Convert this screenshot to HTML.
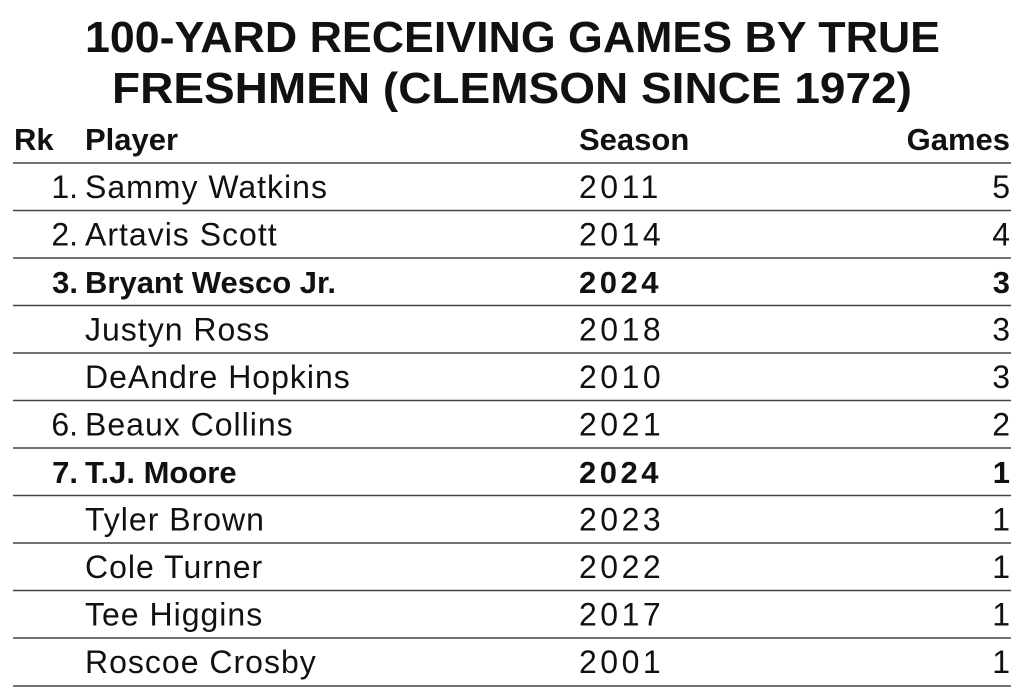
<!DOCTYPE html>
<html><head><meta charset="utf-8"><style>
html,body{margin:0;padding:0;background:#fff;}
svg{display:block;}
text{font-family:"Liberation Sans",sans-serif;fill:#111;}
.n{letter-spacing:1px;}
.y{letter-spacing:3.5px;}
</style></head><body>
<svg width="1024" height="697" viewBox="0 0 1024 697" xmlns="http://www.w3.org/2000/svg">
<text x="85" y="52" font-size="44" font-weight="bold" textLength="855" lengthAdjust="spacingAndGlyphs">100-YARD RECEIVING GAMES BY TRUE</text>
<text x="112" y="103" font-size="44" font-weight="bold" textLength="800" lengthAdjust="spacingAndGlyphs">FRESHMEN (CLEMSON SINCE 1972)</text>
<g font-size="31" font-weight="bold">
<text x="14" y="150">Rk</text>
<text x="85" y="150">Player</text>
<text x="579" y="150">Season</text>
<text x="1010" y="150" text-anchor="end">Games</text>
</g>
<g stroke="#444" stroke-width="1.5">
<line x1="13" x2="1011" y1="163" y2="163"/>
<line x1="13" x2="1011" y1="210.5" y2="210.5"/>
<line x1="13" x2="1011" y1="258" y2="258"/>
<line x1="13" x2="1011" y1="305.5" y2="305.5"/>
<line x1="13" x2="1011" y1="353" y2="353"/>
<line x1="13" x2="1011" y1="400.5" y2="400.5"/>
<line x1="13" x2="1011" y1="448" y2="448"/>
<line x1="13" x2="1011" y1="495.5" y2="495.5"/>
<line x1="13" x2="1011" y1="543" y2="543"/>
<line x1="13" x2="1011" y1="590.5" y2="590.5"/>
<line x1="13" x2="1011" y1="638" y2="638"/>
<line x1="13" x2="1011" y1="686" y2="686"/>
</g>
<g font-size="32">
<text x="78" y="198" text-anchor="end">1.</text><text class="n" x="85" y="198">Sammy Watkins</text><text class="y" x="579" y="198">2011</text><text x="1010" y="198" text-anchor="end">5</text>
<text x="78" y="245.5" text-anchor="end">2.</text><text class="n" x="85" y="245.5">Artavis Scott</text><text class="y" x="579" y="245.5">2014</text><text x="1010" y="245.5" text-anchor="end">4</text>
<g font-weight="bold" font-size="31"><text x="78" y="293" text-anchor="end">3.</text><text x="85" y="293">Bryant Wesco Jr.</text><text class="y" x="579" y="293">2024</text><text x="1010" y="293" text-anchor="end">3</text></g>
<text class="n" x="85" y="340.5">Justyn Ross</text><text class="y" x="579" y="340.5">2018</text><text x="1010" y="340.5" text-anchor="end">3</text>
<text class="n" x="85" y="388">DeAndre Hopkins</text><text class="y" x="579" y="388">2010</text><text x="1010" y="388" text-anchor="end">3</text>
<text x="78" y="435.5" text-anchor="end">6.</text><text class="n" x="85" y="435.5">Beaux Collins</text><text class="y" x="579" y="435.5">2021</text><text x="1010" y="435.5" text-anchor="end">2</text>
<g font-weight="bold" font-size="31"><text x="78" y="483" text-anchor="end">7.</text><text x="85" y="483">T.J. Moore</text><text class="y" x="579" y="483">2024</text><text x="1010" y="483" text-anchor="end">1</text></g>
<text class="n" x="85" y="530.5">Tyler Brown</text><text class="y" x="579" y="530.5">2023</text><text x="1010" y="530.5" text-anchor="end">1</text>
<text class="n" x="85" y="578">Cole Turner</text><text class="y" x="579" y="578">2022</text><text x="1010" y="578" text-anchor="end">1</text>
<text class="n" x="85" y="625.5">Tee Higgins</text><text class="y" x="579" y="625.5">2017</text><text x="1010" y="625.5" text-anchor="end">1</text>
<text class="n" x="85" y="673">Roscoe Crosby</text><text class="y" x="579" y="673">2001</text><text x="1010" y="673" text-anchor="end">1</text>
</g>
</svg>
</body></html>
